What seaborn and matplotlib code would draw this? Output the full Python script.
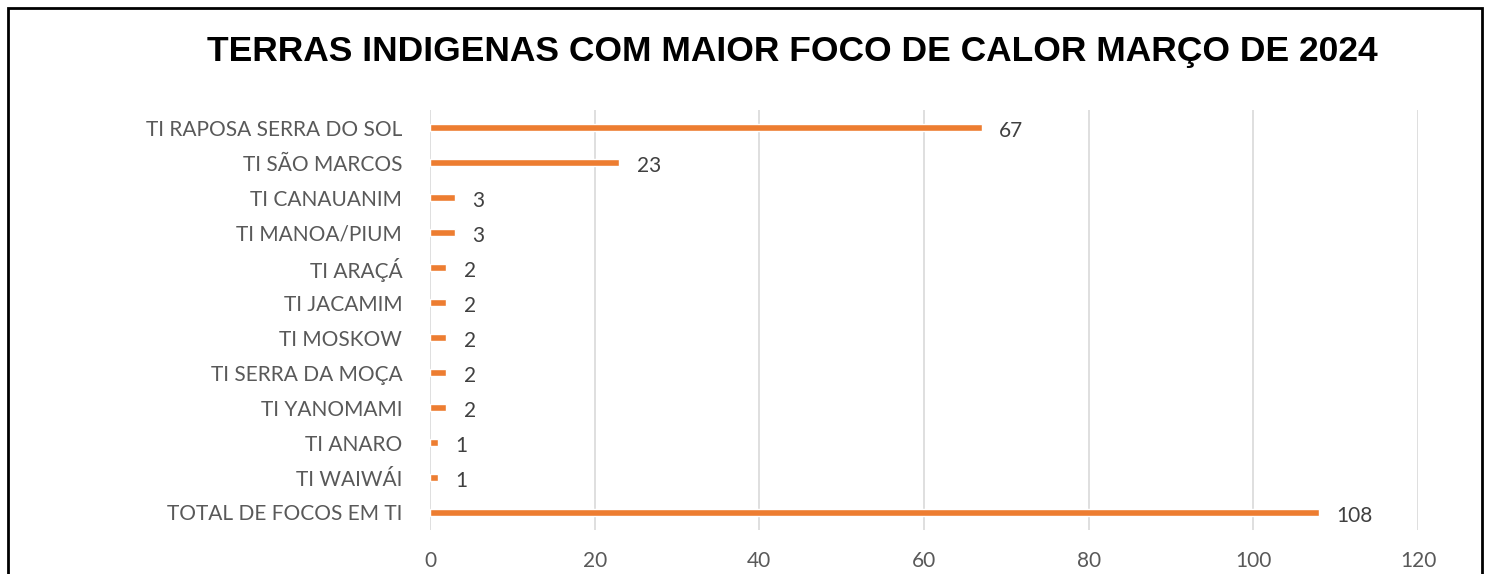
import matplotlib
matplotlib.use("Agg")
import matplotlib.pyplot as plt
import seaborn as sns
import pandas as pd
from matplotlib.patches import Rectangle

# dados do grafico
terras = ["TI RAPOSA SERRA DO SOL", "TI SÃO MARCOS", "TI CANAUANIM", "TI MANOA/PIUM",
          "TI ARAÇÁ", "TI JACAMIM", "TI MOSKOW", "TI SERRA DA MOÇA", "TI YANOMAMI",
          "TI ANARO", "TI WAIWÁI", "TOTAL DE FOCOS EM TI"]
focos = [67, 23, 3, 3, 2, 2, 2, 2, 2, 1, 1, 108]
x_ticks = [0, 20, 40, 60, 80, 100, 120]

df = pd.DataFrame({"terra": terras, "focos": focos})

sns.set_style("white")
plt.rcParams['font.family'] = ['Lato', 'DejaVu Sans']

fig = plt.figure(figsize=(14.9, 5.74), dpi=100)
ax = fig.add_axes([430 / 1490, 1 - 530 / 574, (1418 - 430) / 1490, (530 - 110) / 574])

sns.barplot(data=df, x="focos", y="terra", orient="h", color="#ED7D31",
            width=0.2, saturation=1, ax=ax)

# rotulos dos valores
for i, v in enumerate(focos):
    ax.text(v + 2.1, i + 0.1, str(v), va="center", ha="left", fontsize=15, color="#404040")

ax.set_xlim(0, 120)
ax.set_xticks(x_ticks)
ax.set_xticklabels([str(t) for t in x_ticks], fontsize=15, color="#595959")
ax.tick_params(axis="y", labelsize=15, labelcolor="#595959", length=0, pad=20)
ax.tick_params(axis="x", length=0, pad=15)
ax.set_xlabel("")
ax.set_ylabel("")
ax.grid(axis="x", color="#d9d9d9", linewidth=1.2)
ax.set_axisbelow(True)
for s in ax.spines.values():
    s.set_visible(False)

fig.text(792 / 1490, 1 - 52 / 574, "TERRAS INDIGENAS COM MAIOR FOCO DE CALOR MARÇO DE 2024",
         ha="center", va="center", fontsize=25.5, fontweight="bold",
         family=["Liberation Sans", "DejaVu Sans"], color="black")

# moldura
fig.patches.append(Rectangle((8 / 1490, -0.05), (1482 - 8) / 1490, 1 - 8 / 574 + 0.05,
                             transform=fig.transFigure, fill=False, edgecolor="black",
                             linewidth=2))

fig.savefig("out.png", dpi=100)
